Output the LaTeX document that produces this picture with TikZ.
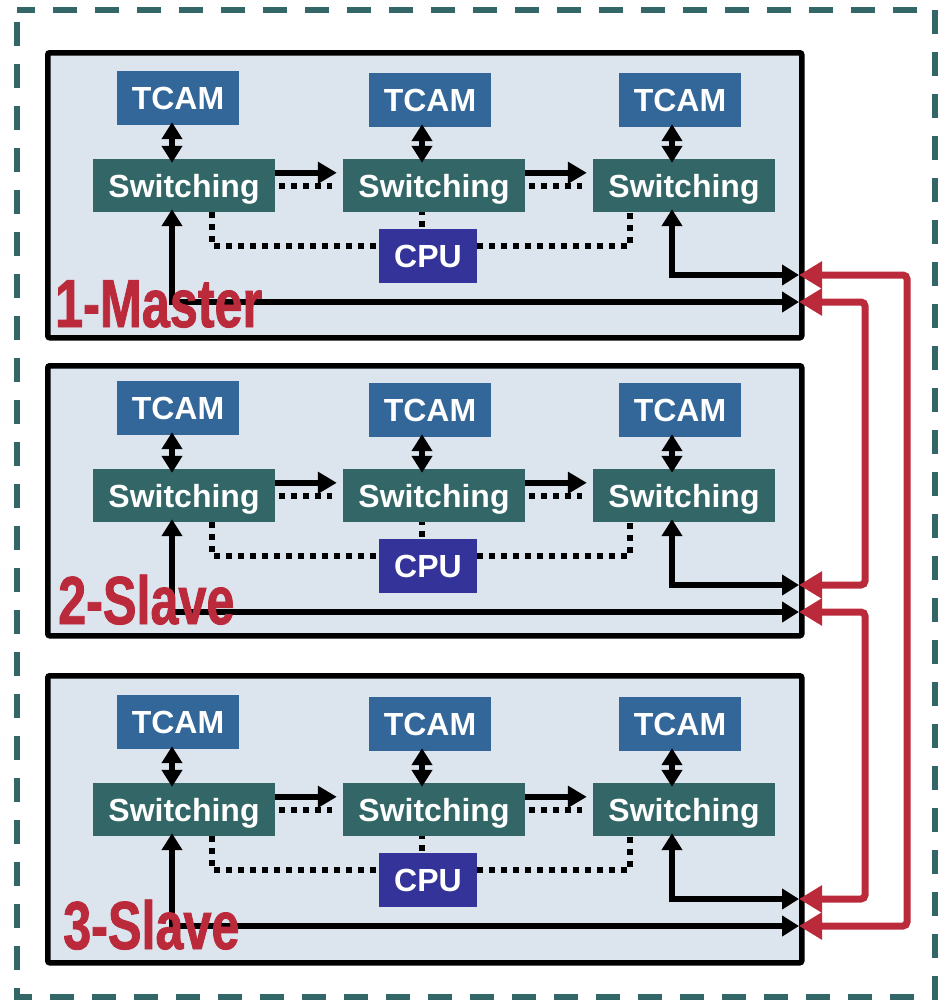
\documentclass[tikz,border=0pt]{standalone}
\usepackage{fontspec}
\setmainfont{Liberation Sans}
\newfontfamily\tagfont{Liberation Sans}[FakeStretch=0.74,FakeBold=1.2]
\usetikzlibrary{
  arrows.meta,
  calc
}
\definecolor{sysTeal}{HTML}{336666}
\definecolor{sysBlue}{HTML}{336699}
\definecolor{sysIndigo}{HTML}{333399}
\definecolor{sysPanel}{HTML}{DCE4EE}
\definecolor{sysRed}{HTML}{BB2A3A}
\tikzset{
  every node/.style={font=\bfseries\fontsize{32}{36}\selectfont, text=white},
  box/.style={inner sep=0pt, minimum height=54pt},
  tcam/.style={box, fill=sysBlue, minimum width=122pt},
  switchbox/.style={box, fill=sysTeal, minimum width=182pt, minimum height=53pt,
    text depth=0pt},
  cpu/.style={box, fill=sysIndigo, minimum width=98pt},
  panel/.style={
    draw=black,
    line width=5.5pt,
    fill=sysPanel,
    rounded corners=2pt,
    inner sep=0pt
  },
  tag/.style={
    font=\tagfont\bfseries\fontsize{68}{70}\selectfont,
    text=sysRed,
    inner sep=0pt
  },
  link/.style={
    -{Triangle[length=19pt,width=21pt]},
    line width=6pt
  },
  duallink/.style={
    {Triangle[length=17pt,width=20pt]}-{Triangle[length=17pt,width=20pt]},
    line width=6pt
  },
  ctrl/.style={line width=6pt, dash pattern=on 6pt off 6pt},
  bus/.style={
    {Triangle[length=23pt,width=26pt]}-{Triangle[length=23pt,width=26pt]},
    line width=7pt,
    draw=sysRed,
    rounded corners=4pt
  },
  frame/.style={draw=sysTeal, line width=6pt, dash pattern=on 24pt off 18pt,
    dash phase=30pt}
}

\begin{document}
\begin{tikzpicture}[x=1pt,y=-1pt]
  \useasboundingbox (0,0) rectangle (943,1001);
  \draw[frame] (17,10) rectangle (935,997);

  \foreach \n/\top/\bot/\r/\lx/\ly/\lbl in {
    1/50/335/50/55/327/1-Master,
    2/363/633/360/58/624/2-Slave,
    3/673/960/674/63/949/3-Slave
  }{
    \pgfmathsetmacro{\ph}{\bot-\top}
    \node[panel, anchor=north west, minimum width=754pt, minimum height=\ph pt]
      (panel\n) at (45,\top) {};

    \foreach \c/\tx/\ty/\sx in {1/178/48/184, 2/430/50/434, 3/680/50/684}{
      \node[tcam] (tcam\n\c) at (\tx,\r+\ty) {TCAM};
      \node[switchbox] (sw\n\c) at (\sx,\r+135.5) {Switching};
      \coordinate (ax\n\c) at (\sx-12,\r+135.5);
      \draw[duallink, shorten <=-3pt, shorten >=-4pt]
        (tcam\n\c.south -| ax\n\c) -- (sw\n\c.north -| ax\n\c);
    }
    \node[cpu] (cpu\n) at (428,\r+206) {CPU};

    \foreach \c/\d in {1/2, 2/3}{
      \draw[link] ($(sw\n\c.north east)+(0,14)$) -- ($(sw\n\d.north west)+(-6,14)$);
      \draw[ctrl] ($(sw\n\c.east)+(4,0)$) -- ($(sw\n\d.west)+(-11,0)$);
    }

    % control paths to the CPU
    \draw[ctrl] ($(sw\n1.south)+(28,0)$) |- ($(cpu\n.west)+(0,-10)$);
    \draw[ctrl] ($(cpu\n.east)+(0,-10)$) -| ($(sw\n3.south)+(-54,0)$);
    \draw[ctrl, dash phase=3pt] (sw\n2.south -| ax\n2) -- (cpu\n.north -| ax\n2);

    \coordinate (ina\n) at (799,\r+225);
    \coordinate (inb\n) at (799,\r+252);
    \draw[duallink, shorten <=-3pt] (sw\n1.south -| ax\n1) |- (inb\n);
    \draw[duallink, shorten <=-3pt] (sw\n3.south -| ax\n3) |- (ina\n);

    \node[tag, anchor=base west] (tag\n) at (\lx,\ly) {\lbl};
  }

  % inter-board links
  \coordinate (outerbus) at (907,0);
  \coordinate (innerbus) at (865,0);
  \draw[bus] (ina1) -- (ina1 -| outerbus) -- (inb3 -| outerbus) -- (inb3);
  \draw[bus] (inb1) -- (inb1 -| innerbus) -- (ina2 -| innerbus) -- (ina2);
  \draw[bus] (inb2) -- (inb2 -| innerbus) -- (ina3 -| innerbus) -- (ina3);
\end{tikzpicture}
\end{document}
